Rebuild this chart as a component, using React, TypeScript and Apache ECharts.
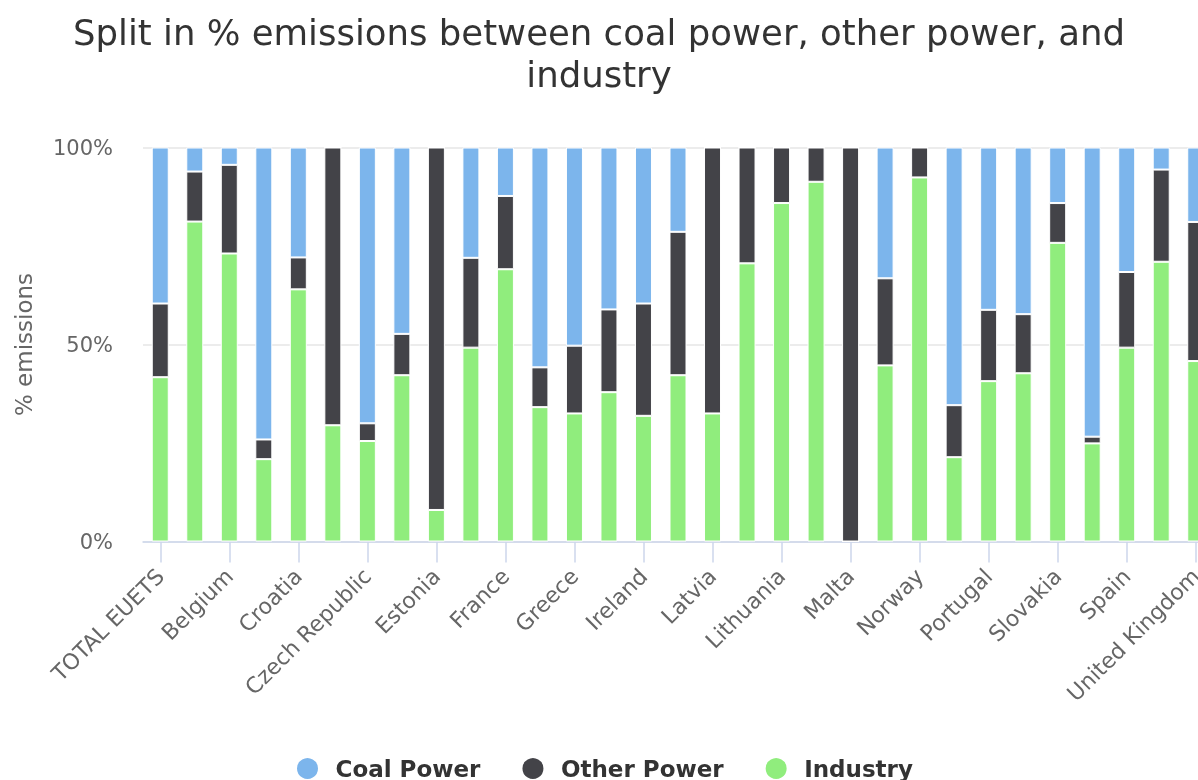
import React, { useEffect, useRef } from "react";
import * as echarts from "echarts";

const categories = [
  "TOTAL EUETS", "Austria", "Belgium", "Bulgaria", "Croatia", "Cyprus", "Czech Republic", "Denmark",
  "Estonia", "Finland", "France", "Germany", "Greece", "Hungary", "Ireland", "Italy", "Latvia",
  "Liechtenstein", "Lithuania", "Luxembourg", "Malta", "Netherlands", "Norway", "Poland", "Portugal",
  "Romania", "Slovakia", "Slovenia", "Spain", "Sweden", "United Kingdom",
];

const coalPower = [
  39.6, 6.1, 4.4, 74.1, 27.9, 0, 70.0, 47.3, 0, 28.0, 12.3, 55.8, 50.3, 41.1, 39.6, 21.4, 0,
  0, 0, 0, 0, 33.2, 0, 65.4, 41.2, 42.3, 14.1, 73.4, 31.6, 5.6, 18.9,
];
const otherPower = [
  18.7, 12.7, 22.5, 5.0, 8.1, 70.5, 4.5, 10.5, 92.0, 22.8, 18.6, 10.1, 17.2, 21.0, 28.5, 36.4, 67.5,
  29.4, 14.1, 8.7, 100, 22.1, 7.6, 13.2, 18.1, 15.0, 10.1, 1.7, 19.2, 23.4, 35.3,
];
const industry = [
  41.7, 81.2, 73.1, 20.9, 64.0, 29.5, 25.5, 42.2, 8.0, 49.2, 69.1, 34.1, 32.5, 37.9, 31.9, 42.2, 32.5,
  70.6, 85.9, 91.3, 0, 44.7, 92.4, 21.4, 40.7, 42.7, 75.8, 24.9, 49.2, 71.0, 45.8,
];

const yTicks = [0, 50, 100];
const FONT = "'DejaVu Sans', Verdana, sans-serif";

export default function App() {
  const ref = useRef<HTMLDivElement>(null);
  useEffect(() => {
    if (!ref.current) return;
    const chart = echarts.init(ref.current, undefined, { renderer: "svg" });
    const bar = (name: string, data: number[], color: string) => ({
      name,
      type: "bar",
      stack: "total",
      data,
      barWidth: 17,
      itemStyle: { color, borderColor: "#ffffff", borderWidth: 1 },
    });
    chart.setOption({
      animation: false,
      textStyle: { fontFamily: FONT },
      title: {
        text: "Split in % emissions between coal power, other power, and\nindustry",
        left: "center",
        top: 6,
        textStyle: { fontFamily: FONT, fontSize: 35.5, fontWeight: "normal", color: "#333333", lineHeight: 42 },
      },
      legend: {
        data: ["Coal Power", "Other Power", "Industry"],
        left: 290,
        top: 751,
        icon: "circle",
        itemWidth: 46,
        itemHeight: 23,
        itemGap: 40,
        textStyle: { fontFamily: FONT, fontSize: 23, fontWeight: "bold", color: "#333333" },
      },
      grid: {
        left: 143,
        right: -15,
        top: 147.5,
        bottom: 238.5,
        containLabel: false,
        outerBoundsMode: "none",
      },
      xAxis: {
        type: "category",
        data: categories,
        axisLine: { lineStyle: { color: "#ccd6eb", width: 1.5 } },
        axisTick: { show: true, interval: 1, alignWithLabel: true, length: 21, lineStyle: { color: "#ccd6eb", width: 1.5 } },
        axisLabel: { interval: 1, rotate: 45, margin: 31, fontFamily: FONT, fontSize: 22, color: "#666666" },
      },
      yAxis: {
        type: "value",
        min: yTicks[0],
        max: yTicks[yTicks.length - 1],
        interval: 50,
        name: "% emissions",
        nameLocation: "middle",
        nameGap: 108,
        nameTextStyle: { fontFamily: FONT, fontSize: 23, color: "#666666" },
        axisLine: { show: false },
        axisTick: { show: false },
        axisLabel: { formatter: "{value}%", margin: 30, fontFamily: FONT, fontSize: 21, color: "#666666" },
        splitLine: { lineStyle: { color: "#e6e6e6", width: 1.5 } },
      },
      series: [
        bar("Industry", industry, "#90ed7d"),
        bar("Other Power", otherPower, "#434348"),
        bar("Coal Power", coalPower, "#7cb5ec"),
      ],
    });
    return () => chart.dispose();
  }, []);
  return <div ref={ref} style={{ position: "fixed", left: 0, top: 0, width: 1198, height: 780 }} />;
}
